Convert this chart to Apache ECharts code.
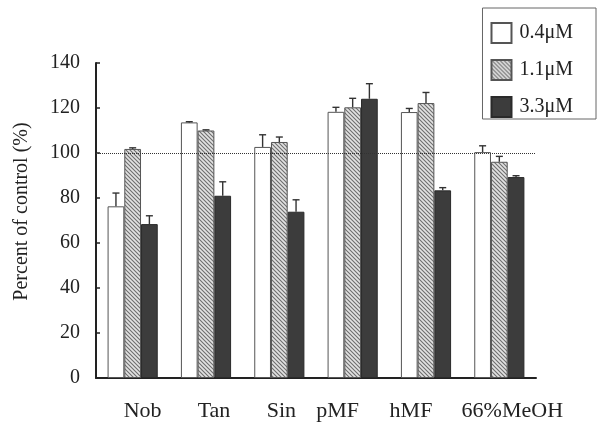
<!DOCTYPE html>
<html>
<head>
<meta charset="utf-8">
<script src="https://cdn.jsdelivr.net/npm/echarts@6/dist/echarts.min.js"></script>
<style>
  html, body { margin: 0; padding: 0; background: #fff; }
  #chart { width: 598px; height: 426px; }
</style>
</head>
<body>
<div id="chart"></div>
<script>
// Compounds tested
const categories = ['Nob', 'Tan', 'Sin', 'pMF', 'hMF', '66%MeOH'];

// Mean cell response (percent of control) per concentration
const dose04 = [76.3, 113.6, 102.7, 118.3, 118.2, 100.4];
const dose11 = [101.8, 110.0, 104.9, 120.3, 122.2, 96.1];
const dose33 = [68.4, 81.0, 73.9, 124.1, 83.4, 89.3];

// Upper error (SD) per concentration
const err04 = [5.9, 0.3, 5.4, 2.0, 1.6, 2.8];
const err11 = [0.5, 0.3, 2.2, 4.0, 4.7, 2.4];
const err33 = [3.7, 6.2, 5.3, 6.7, 1.2, 0.6];

const seriesNames = ['0.4\u03bcM', '1.1\u03bcM', '3.3\u03bcM'];
const controlLevel = 100;

const FONT = '"Liberation Serif", "Times New Roman", serif';
const TEXT = '#222';
const BAR_FRAC = 0.228; // bar width as a fraction of the category band

// Diagonal "\" hatch tile for the middle concentration
function hatchTile() {
  const n = 4;
  const c = document.createElement('canvas');
  c.width = n; c.height = n;
  const g = c.getContext('2d');
  g.fillStyle = '#e2e2e2';
  g.fillRect(0, 0, n, n);
  g.strokeStyle = '#6e6e6e';
  g.lineWidth = 1.1;
  g.beginPath();
  g.moveTo(-1, -1); g.lineTo(n + 1, n + 1);
  g.moveTo(-1, n - 1); g.lineTo(1, n + 1);
  g.moveTo(n - 1, -1); g.lineTo(n + 1, 1);
  g.stroke();
  return c;
}
const hatch = { image: hatchTile(), repeat: 'repeat' };

// Horizontal nudges of each category label (px)
const labelShift = [10, 8, 2, -15, -15, 13];
const rich = {};
labelShift.forEach((s, i) => {
  rich['c' + i] = {
    fontFamily: FONT, fontSize: 22, color: TEXT,
    padding: s >= 0 ? [0, 0, 0, 2 * s] : [0, -2 * s, 0, 0]
  };
});

function errorSeries(values, errs, slot) {
  return {
    type: 'custom',
    name: 'err' + slot,
    z: 5,
    silent: true,
    data: values.map((v, i) => [i, v, errs[i]]),
    encode: { x: 0, y: 1 },
    renderItem(params, api) {
      const i = api.value(0), v = api.value(1), e = api.value(2);
      const base = api.coord([i, v]);
      const top = api.coord([i, v + e]);
      const band = api.size([1, 0])[0];
      const cx = base[0] + (slot - 1) * band * BAR_FRAC;
      const style = { stroke: '#333', lineWidth: 1.4 };
      return {
        type: 'group',
        children: [
          { type: 'line', shape: { x1: cx, y1: base[1], x2: cx, y2: top[1] }, style },
          { type: 'line', shape: { x1: cx - 3.5, y1: top[1], x2: cx + 3.5, y2: top[1] }, style }
        ]
      };
    }
  };
}

const chart = echarts.init(document.getElementById('chart'), null, { renderer: 'canvas' });

chart.setOption({
  animation: false,
  backgroundColor: '#fff',
  grid: { left: 96, right: 62, top: 63, bottom: 48 },
  legend: {
    data: seriesNames,
    orient: 'vertical',
    right: 2,
    top: 8,
    padding: [14, 23, 1, 8],
    itemWidth: 20,
    itemHeight: 20,
    itemGap: 15,
    borderColor: '#666',
    borderWidth: 1,
    icon: 'rect',
    textStyle: { fontFamily: FONT, fontSize: 20, color: TEXT, padding: [0, 0, 0, 3] }
  },
  xAxis: {
    type: 'category',
    data: categories,
    axisLine: { lineStyle: { color: '#222', width: 2 } },
    axisTick: { inside: true, length: 4, lineStyle: { color: '#222', width: 2 } },
    axisLabel: {
      interval: 0,
      margin: 22,
      formatter: (v, i) => '{c' + i + '|' + v + '}',
      rich
    }
  },
  yAxis: {
    type: 'value',
    min: 0,
    max: 140,
    interval: 20,
    name: 'Percent of control (%)',
    nameLocation: 'middle',
    nameGap: 64,
    nameTextStyle: { fontFamily: FONT, fontSize: 20, color: TEXT, padding: [0, 0, 0, 18] },
    axisLine: { show: true, lineStyle: { color: '#222', width: 2 } },
    axisTick: { show: true, inside: true, length: 4, lineStyle: { color: '#222', width: 1.5 } },
    axisLabel: { fontFamily: FONT, fontSize: 20, color: TEXT, margin: 16 },
    splitLine: { show: false }
  },
  series: [
    {
      type: 'bar',
      name: seriesNames[0],
      data: dose04,
      barWidth: (BAR_FRAC * 100) + '%',
      barGap: '0%',
      itemStyle: { color: '#fff', borderColor: '#555', borderWidth: 1 },
      markLine: {
        silent: true,
        symbol: 'none',
        label: { show: false },
        lineStyle: { type: 'dotted', color: '#333', width: 1 },
        data: [{ yAxis: controlLevel }]
      }
    },
    {
      type: 'bar',
      name: seriesNames[1],
      data: dose11,
      barWidth: (BAR_FRAC * 100) + '%',
      barGap: '0%',
      itemStyle: { color: hatch, borderColor: '#555', borderWidth: 1 }
    },
    {
      type: 'bar',
      name: seriesNames[2],
      data: dose33,
      barWidth: (BAR_FRAC * 100) + '%',
      barGap: '0%',
      itemStyle: { color: '#3c3c3c', borderColor: '#2a2a2a', borderWidth: 1 }
    },
    errorSeries(dose04, err04, 0),
    errorSeries(dose11, err11, 1),
    errorSeries(dose33, err33, 2)
  ]
});
</script>
</body>
</html>
